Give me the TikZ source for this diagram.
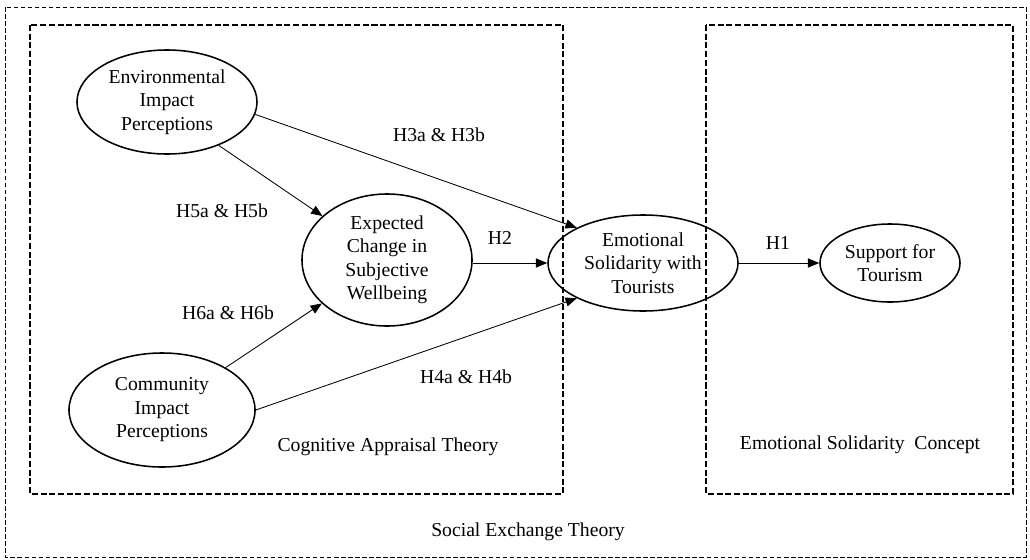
\documentclass[tikz,border=0pt]{standalone}
\usepackage{fontspec}
\setmainfont{Liberation Serif}
\usetikzlibrary{arrows.meta,shapes}

\begin{document}
\begin{tikzpicture}[x=0.025cm,y=-0.025cm,font=\fontsize{14}{16.7}\selectfont,
  construct/.style={draw,ellipse,line width=1.1pt,inner sep=0pt,align=center},
  frame/.style={line width=0.5pt,dash pattern=on 3.3pt off 1.7pt},
  theory/.style={line width=1pt,dash pattern=on 4.3pt off 1.9pt},
  hyp/.style={-{Triangle[length=8pt,width=6.5pt]},line width=0.6pt}]

\useasboundingbox (0,0) rectangle (1030,559);

\draw[frame] (5,7) rectangle (1026,557);
\draw[theory] (30,25) rectangle (563,494);
\draw[theory] (706,25) rectangle (1013,494);

\node (env) at (167,102)[construct,minimum width=4.5cm,minimum height=2.6cm] {Environmental\\Impact\\Perceptions};
\node (exp) at (387,260)[construct,minimum width=4.25cm,minimum height=3.3cm] {Expected\\Change in\\Subjective\\Wellbeing};
\node (emo) at (643,263)[construct,minimum width=4.75cm,minimum height=2.4cm] {Emotional\\Solidarity with\\Tourists};
\node (sup) at (890,263)[construct,minimum width=3.5cm,minimum height=1.95cm] {Support for\\Tourism};
\node (com) at (162,410)[construct,minimum width=4.65cm,minimum height=2.85cm] {Community\\Impact\\Perceptions};

\draw[hyp] (env.-40) -- (exp);
\draw[hyp] (env.-8) -- (emo.152);
\draw[hyp] (com) -- (exp);
\draw[hyp] (com.east) -- (emo.208);
\draw[hyp] (exp.east |- emo.west) -- (emo.west);
\draw[hyp] (emo.east) -- (sup.west);

\node (h3) at (439,135) {H3a \& H3b};
\node (h5) at (222,211) {H5a \& H5b};
\node (h2) at (500,238) {H2};
\node (h1) at (778,243) {H1};
\node (h6) at (228,313) {H6a \& H6b};
\node (h4) at (466,377) {H4a \& H4b};

\node (cat) at (388,447) {Cognitive Appraisal Theory};
\node (esc) at (860,445) {Emotional Solidarity\ \ Concept};
\node (set) at (528,532) {Social Exchange Theory};
\end{tikzpicture}
\end{document}
